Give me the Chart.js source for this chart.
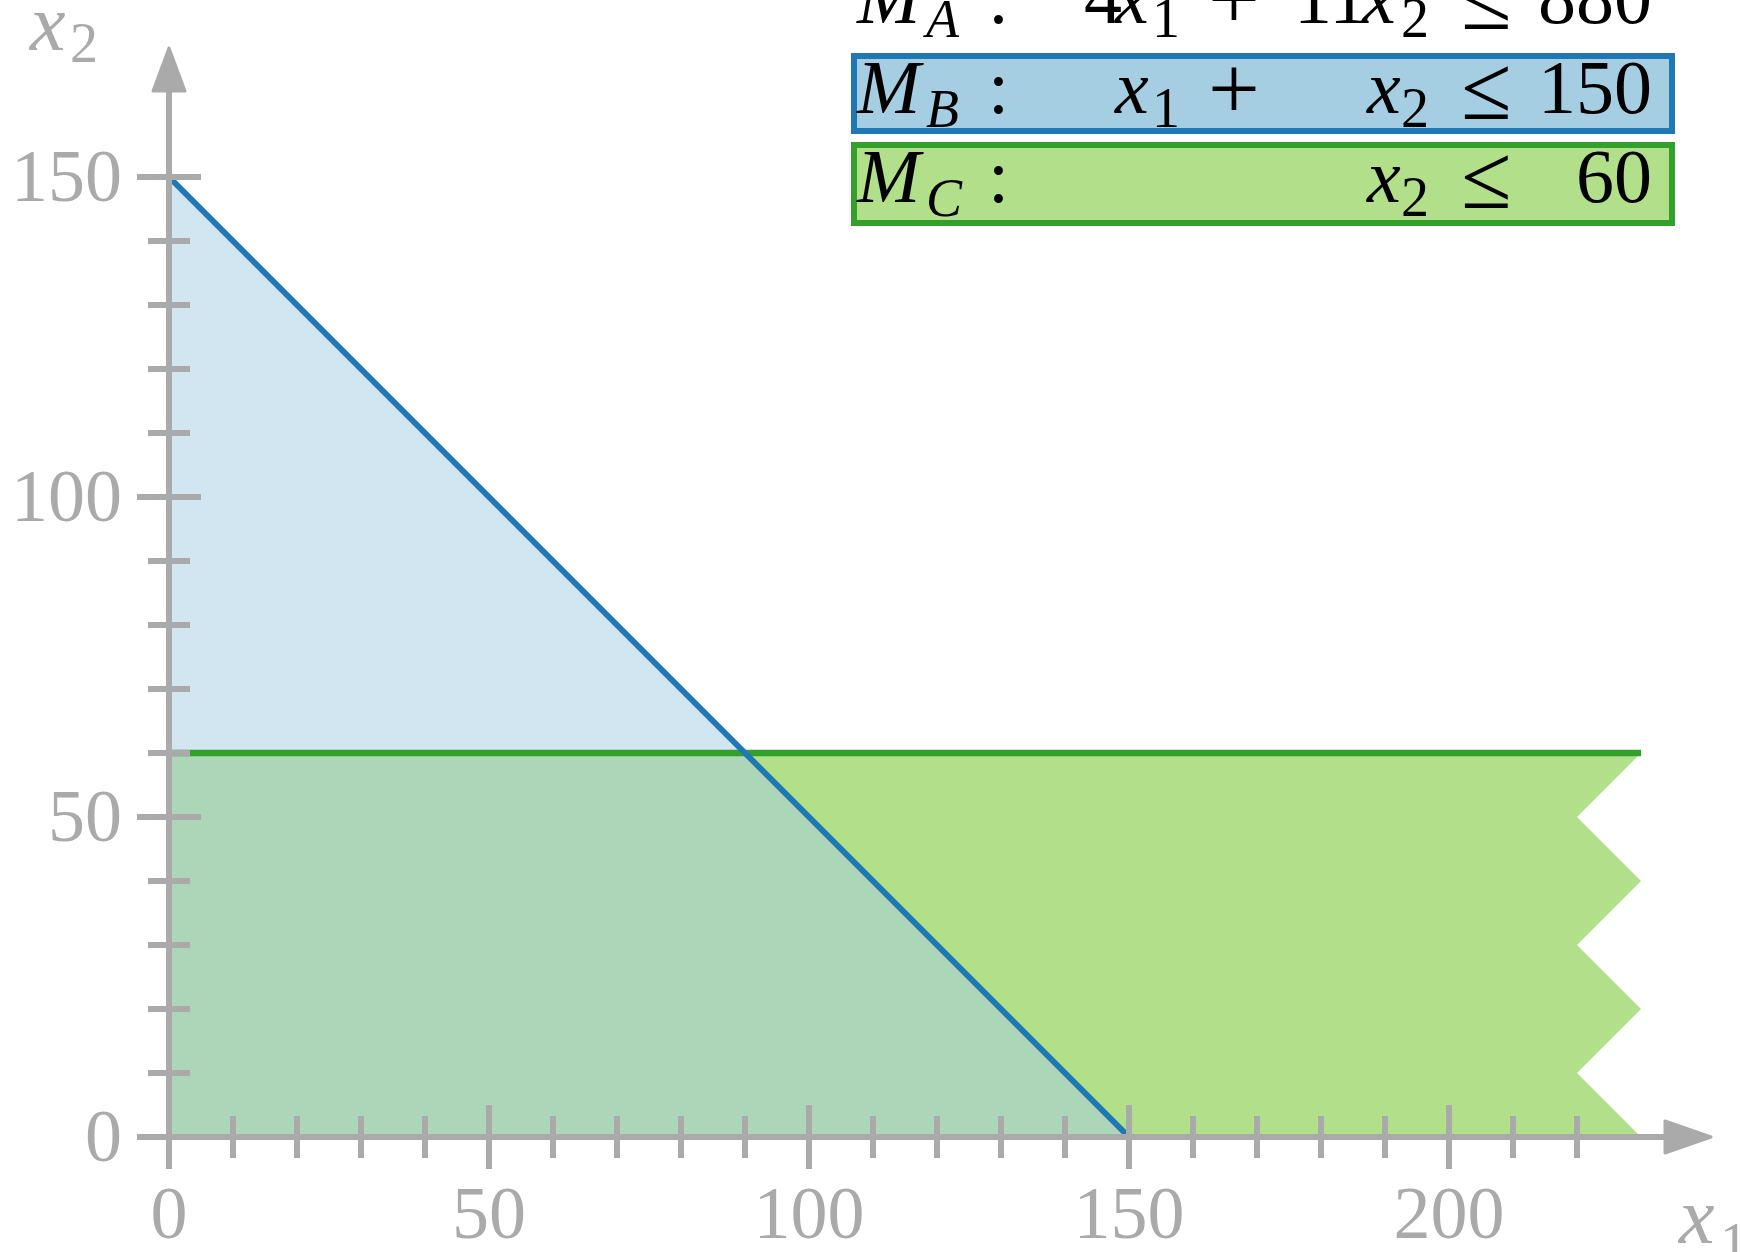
<!DOCTYPE html>
<html>
<head>
<meta charset="utf-8">
<script src="https://cdn.jsdelivr.net/npm/chart.js@4"></script>
<style>
  body { margin: 0; background: #fff; }
  #wrap { width: 1740px; height: 1252px; }
</style>
</head>
<body>
<div id="wrap"><canvas id="lpChart" width="1740" height="1252"></canvas></div>
<script>
// constraint M_B : x1 + x2 <= 150
const lineBX = [0, 150];
const lineBY = [150, 0];
// constraint M_C : x2 <= 60
const lineCX = [0, 230];
const lineCY = [60, 60];

// shaded regions (polygons)
const regionBX = [0, 0, 150];
const regionBY = [0, 150, 0];
const regionCX = [0, 0, 230, 220, 230, 220, 230, 220, 230];
const regionCY = [0, 60, 60, 50, 40, 30, 20, 10, 0];

// axes ticks
const xMajorTicks = [0, 50, 100, 150, 200];
const xMinorTicks = [10, 20, 30, 40, 60, 70, 80, 90, 110, 120, 130, 140, 160, 170, 180, 190, 210, 220];
const xTickLabels = ['0', '50', '100', '150', '200'];
const yMajorTicks = [0, 50, 100, 150];
const yMinorTicks = [10, 20, 30, 40, 60, 70, 80, 90, 110, 120, 130, 140];
const yTickLabels = ['0', '50', '100', '150'];

const AXIS_GRAY = '#aaaaaa';
const FONT = '"Liberation Serif", "DejaVu Serif", serif';

function pts(xs, ys) {
  return xs.map((x, i) => ({ x: x, y: ys[i] }));
}

function put(ctx, s, x, y, size, italic, align) {
  ctx.font = (italic ? 'italic ' : '') + size + 'px ' + FONT;
  ctx.textAlign = align || 'left';
  ctx.textBaseline = 'alphabetic';
  ctx.fillText(s, x, y);
}

function fillPolygon(chart, xs, ys, color) {
  const { ctx, scales } = chart;
  ctx.save();
  ctx.beginPath();
  xs.forEach((x, i) => {
    const px = scales.x.getPixelForValue(x);
    const py = scales.y.getPixelForValue(ys[i]);
    if (i === 0) ctx.moveTo(px, py); else ctx.lineTo(px, py);
  });
  ctx.closePath();
  ctx.fillStyle = color;
  ctx.fill();
  ctx.restore();
}

const regionsPlugin = {
  id: 'regions',
  beforeDatasetsDraw(chart) {
    fillPolygon(chart, regionCX, regionCY, '#b2df8a');
    fillPolygon(chart, regionBX, regionBY, 'rgba(166, 206, 227, 0.5)');
  }
};

const axesPlugin = {
  id: 'axes',
  afterDatasetsDraw(chart) {
    const { ctx, scales } = chart;
    const sx = scales.x, sy = scales.y;
    const x0 = sx.getPixelForValue(0);
    const y0 = sy.getPixelForValue(0);
    const right = chart.chartArea.right;
    const top = chart.chartArea.top;
    ctx.save();
    ctx.strokeStyle = AXIS_GRAY;
    ctx.fillStyle = AXIS_GRAY;
    ctx.lineWidth = 6;

    // axis lines
    ctx.beginPath();
    ctx.moveTo(x0, y0 + 32);
    ctx.lineTo(x0, top + 40);
    ctx.moveTo(x0 - 32, y0);
    ctx.lineTo(right - 40, y0);
    ctx.stroke();

    // arrow heads
    ctx.lineJoin = 'round';
    ctx.lineWidth = 3;
    ctx.beginPath();
    ctx.moveTo(x0, top - 1);
    ctx.lineTo(x0 - 16, top + 42);
    ctx.lineTo(x0 + 16, top + 42);
    ctx.closePath();
    ctx.fill();
    ctx.stroke();
    ctx.beginPath();
    ctx.moveTo(right + 6, y0);
    ctx.lineTo(right - 40, y0 - 16);
    ctx.lineTo(right - 40, y0 + 16);
    ctx.closePath();
    ctx.fill();
    ctx.stroke();

    // ticks
    ctx.lineWidth = 6;
    ctx.beginPath();
    xMajorTicks.forEach(v => {
      const p = sx.getPixelForValue(v);
      ctx.moveTo(p, y0 - 32); ctx.lineTo(p, y0 + 32);
    });
    xMinorTicks.forEach(v => {
      const p = sx.getPixelForValue(v);
      ctx.moveTo(p, y0 - 21); ctx.lineTo(p, y0 + 21);
    });
    yMajorTicks.forEach(v => {
      const p = sy.getPixelForValue(v);
      ctx.moveTo(x0 - 32, p); ctx.lineTo(x0 + 32, p);
    });
    yMinorTicks.forEach(v => {
      const p = sy.getPixelForValue(v);
      ctx.moveTo(x0 - 21, p); ctx.lineTo(x0 + 21, p);
    });
    ctx.stroke();

    // tick labels
    xMajorTicks.forEach((v, i) => {
      put(ctx, xTickLabels[i], sx.getPixelForValue(v), y0 + 101, 74, false, 'center');
    });
    yMajorTicks.forEach((v, i) => {
      put(ctx, yTickLabels[i], x0 - 47, sy.getPixelForValue(v) + 24, 74, false, 'right');
    });

    // axis titles
    put(ctx, 'x', 30, 50, 80, true);
    put(ctx, '2', 70, 62, 56, false);
    put(ctx, 'x', 1679, 1243, 80, true);
    put(ctx, '1', 1720, 1262, 56, false);
    ctx.restore();
  }
};

const legendPlugin = {
  id: 'constraintBoxes',
  afterDraw(chart) {
    const { ctx } = chart;
    ctx.save();
    // boxes
    ctx.lineWidth = 6;
    ctx.fillStyle = '#a6cee3';
    ctx.strokeStyle = '#1f78b4';
    ctx.fillRect(854, 56, 818, 75);
    ctx.strokeRect(854, 56, 818, 75);
    ctx.fillStyle = '#b2df8a';
    ctx.strokeStyle = '#33a02c';
    ctx.fillRect(854, 145, 818, 78);
    ctx.strokeRect(854, 145, 818, 78);

    ctx.fillStyle = '#000';
    const rows = [
      { b: 23, sub: 'A', parts: [['4', 1084], ['x', 1115, 'i'], ['1', 1152, 's'], ['+', 1208, 'o'], ['11', 1294], ['x', 1362, 'i'], ['2', 1401, 's'], ['\u2264', 1461, 'o']], rhs: '880' },
      { b: 113, sub: 'B', parts: [['x', 1115, 'i'], ['1', 1152, 's'], ['+', 1208, 'o'], ['x', 1367, 'i'], ['2', 1401, 's'], ['\u2264', 1461, 'o']], rhs: '150' },
      { b: 202, sub: 'C', parts: [['x', 1367, 'i'], ['2', 1401, 's'], ['\u2264', 1461, 'o']], rhs: '60' }
    ];
    rows.forEach(r => {
      put(ctx, 'M', 857, r.b, 76, true);
      put(ctx, r.sub, 926, r.b + 14, 54, true);
      put(ctx, ':', 988, r.b, 76, false);
      r.parts.forEach(p => {
        if (p[2] === 's') {
          put(ctx, p[0], p[1], r.b + 14, 56, false);
        } else if (p[2] === 'o') {
          put(ctx, p[0], p[1], r.b + 6, 92, false);
        } else {
          put(ctx, p[0], p[1], r.b, 76, p[2] === 'i');
        }
      });
      put(ctx, r.rhs, 1652, r.b, 76, false, 'right');
    });
    ctx.restore();
  }
};

const canvas = document.getElementById('lpChart');
const chart = new Chart(canvas.getContext('2d'), {
  type: 'scatter',
  data: {
    datasets: [
      {
        label: 'M_B',
        data: pts(lineBX, lineBY),
        showLine: true,
        borderColor: '#1f78b4',
        borderWidth: 6,
        pointRadius: 0,
        fill: false,
        clip: false
      },
      {
        label: 'M_C',
        data: pts(lineCX, lineCY),
        showLine: true,
        borderColor: '#33a02c',
        borderWidth: 6.5,
        pointRadius: 0,
        fill: false,
        clip: false
      }
    ]
  },
  options: {
    responsive: false,
    devicePixelRatio: 1,
    animation: false,
    events: [],
    layout: { padding: { left: 169, right: 35, top: 49, bottom: 115 } },
    scales: {
      x: { type: 'linear', min: 0, max: 240, display: false },
      y: { type: 'linear', min: 0, max: 170, display: false }
    },
    plugins: {
      legend: { display: false },
      tooltip: { enabled: false }
    }
  },
  plugins: [regionsPlugin, axesPlugin, legendPlugin]
});
</script>
</body>
</html>
